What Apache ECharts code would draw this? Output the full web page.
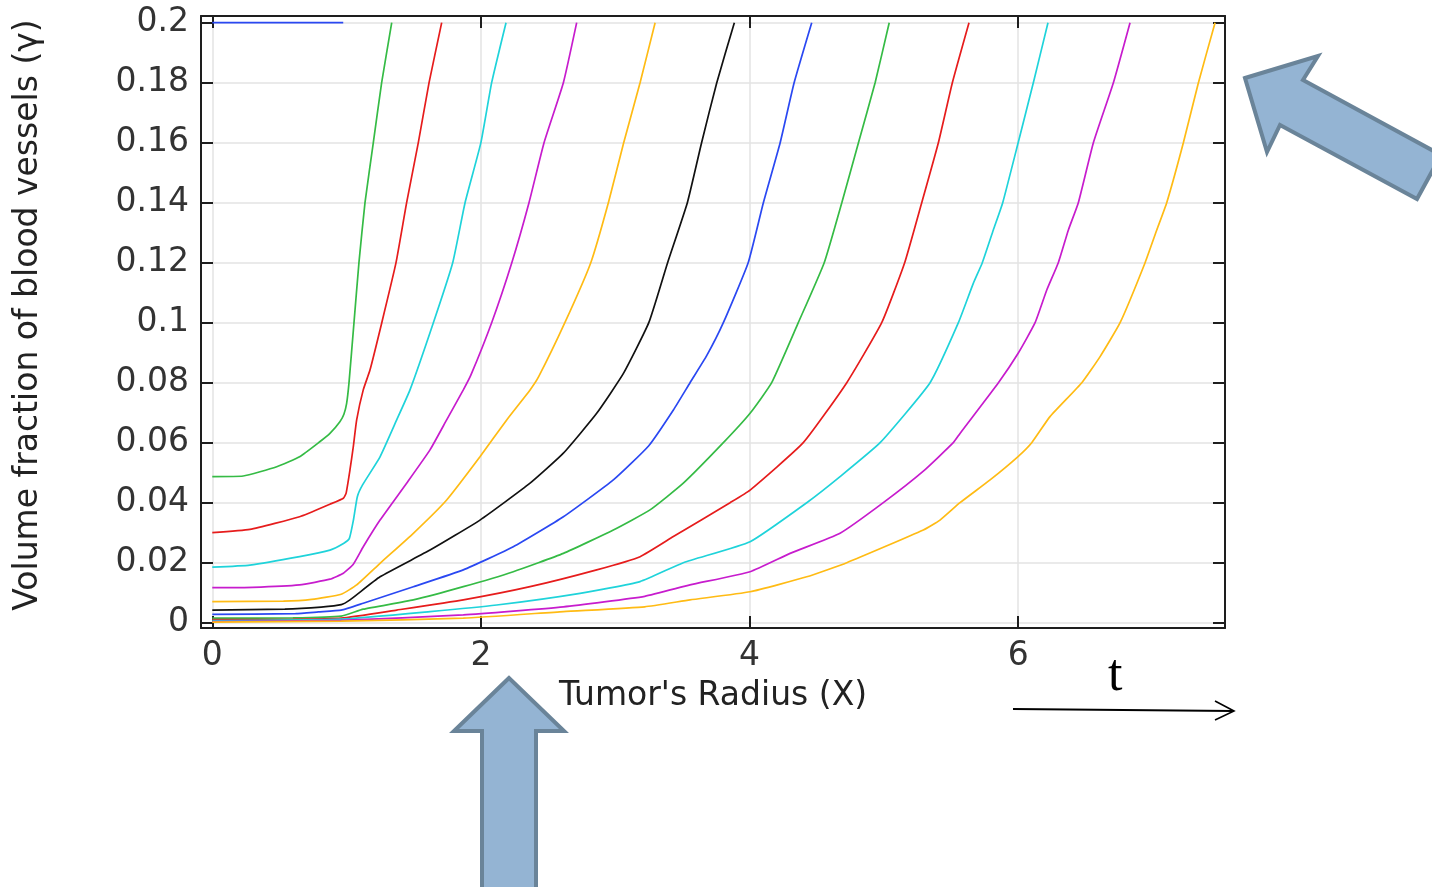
<!DOCTYPE html>
<html>
<head>
    <meta charset="utf-8">
    <title>Blood vessel fraction vs tumor radius</title>
    <script src="https://cdn.jsdelivr.net/npm/echarts@6/dist/echarts.min.js"></script>
    <style>
        html, body {margin: 0; padding: 0; background: #fff;}
        #chart {width: 1432px; height: 887px;}
    </style>
</head>
<body>
    <div id="chart"></div>
    <script type="text/javascript">
        // curves, [X, gamma], one per time step
        var curve01 = [[0, 0.2], [0.975, 0.2]];
        var curve02 = [[0, 0.0487], [0.23, 0.0489], [0.48, 0.052], [0.65, 0.0553], [0.8, 0.0603], [0.876, 0.0631], [0.95, 0.067], [0.98, 0.0695], [1.0, 0.073], [1.018, 0.08], [1.055, 0.1], [1.092, 0.12], [1.137, 0.14], [1.199, 0.16], [1.261, 0.18], [1.336, 0.2]];
        var curve03 = [[0, 0.030], [0.28, 0.0311], [0.65, 0.0353], [0.876, 0.0395], [0.976, 0.0415], [0.996, 0.0431], [1.025, 0.0509], [1.05, 0.0587], [1.075, 0.0676], [1.124, 0.0776], [1.174, 0.0842], [1.262, 0.1], [1.368, 0.12], [1.447, 0.14], [1.534, 0.16], [1.614, 0.18], [1.708, 0.2]];
        var curve04 = [[0, 0.0185], [0.28, 0.0192], [0.65, 0.022], [0.876, 0.0242], [0.98, 0.0265], [1.02, 0.028], [1.05, 0.034], [1.08, 0.042], [1.12, 0.046], [1.249, 0.0553], [1.373, 0.0676], [1.472, 0.0776], [1.646, 0.1], [1.79, 0.12], [1.882, 0.14], [2.0, 0.16], [2.08, 0.18], [2.187, 0.2]];
        var curve05 = [[0, 0.0117], [0.3, 0.0118], [0.65, 0.0126], [0.876, 0.0145], [0.976, 0.0165], [1.05, 0.0195], [1.124, 0.0253], [1.249, 0.0342], [1.447, 0.0465], [1.621, 0.0576], [1.745, 0.0676], [1.869, 0.0776], [1.925, 0.0825], [2.08, 0.1], [2.23, 0.12], [2.358, 0.14], [2.47, 0.16], [2.614, 0.18], [2.713, 0.2]];
        var curve06 = [[0, 0.007], [0.53, 0.0072], [0.74, 0.0078], [0.96, 0.0095], [1.075, 0.0126], [1.249, 0.0198], [1.497, 0.0298], [1.745, 0.0409], [1.993, 0.0553], [2.192, 0.0676], [2.366, 0.0776], [2.43, 0.082], [2.625, 0.1], [2.818, 0.12], [2.949, 0.14], [3.063, 0.16], [3.185, 0.18], [3.297, 0.2]];
        var curve07 = [[0, 0.0042], [0.54, 0.0045], [0.81, 0.0052], [0.96, 0.006], [1.025, 0.0076], [1.249, 0.0153], [1.621, 0.0242], [1.993, 0.0342], [2.366, 0.0465], [2.614, 0.0565], [2.862, 0.0698], [3.06, 0.083], [3.25, 0.1], [3.39, 0.12], [3.537, 0.14], [3.643, 0.16], [3.756, 0.18], [3.887, 0.2]];
        var curve08 = [[0, 0.0028], [0.62, 0.003], [0.79, 0.0036], [0.96, 0.0042], [1.124, 0.0065], [1.497, 0.012], [1.869, 0.0176], [2.241, 0.0253], [2.614, 0.0353], [2.986, 0.0476], [3.25, 0.059], [3.433, 0.0709], [3.557, 0.08], [3.681, 0.089], [3.805, 0.1], [3.99, 0.12], [4.103, 0.14], [4.228, 0.16], [4.332, 0.18], [4.463, 0.2]];
        var curve09 = [[0, 0.0015], [0.6, 0.0016], [0.96, 0.0022], [1.124, 0.0045], [1.497, 0.0076], [1.869, 0.012], [2.241, 0.017], [2.614, 0.0231], [2.986, 0.0309], [3.259, 0.0376], [3.507, 0.0465], [3.805, 0.06], [4.004, 0.0698], [4.165, 0.08], [4.363, 0.1], [4.556, 0.12], [4.687, 0.14], [4.811, 0.16], [4.935, 0.18], [5.04, 0.2]];
        var curve10 = [[0, 0.001], [0.6, 0.0011], [0.96, 0.0015], [1.373, 0.0042], [1.869, 0.0076], [2.366, 0.012], [2.862, 0.0176], [3.185, 0.022], [3.433, 0.0287], [3.855, 0.04], [4.004, 0.0442], [4.4, 0.06], [4.724, 0.08], [4.984, 0.1], [5.155, 0.12], [5.282, 0.14], [5.406, 0.16], [5.51, 0.18], [5.634, 0.2]];
        var curve11 = [[0, 0.0007], [0.96, 0.0012], [1.621, 0.0037], [2.118, 0.0059], [2.738, 0.0098], [3.185, 0.0137], [3.507, 0.02], [4.004, 0.027], [4.426, 0.04], [4.674, 0.0487], [4.972, 0.06], [5.344, 0.08], [5.555, 0.1], [5.666, 0.1131], [5.733, 0.12], [5.815, 0.1309], [5.885, 0.14], [6.0, 0.16], [6.113, 0.18], [6.222, 0.2]];
        var curve12 = [[0, 0.0004], [0.96, 0.0008], [1.869, 0.0026], [2.614, 0.0053], [3.22, 0.0088], [3.557, 0.0126], [4.004, 0.017], [4.302, 0.0231], [4.674, 0.0298], [4.996, 0.04], [5.294, 0.0505], [5.517, 0.06], [5.567, 0.0631], [5.853, 0.08], [6.0, 0.0898], [6.126, 0.1], [6.213, 0.1109], [6.299, 0.12], [6.374, 0.1309], [6.448, 0.14], [6.56, 0.16], [6.709, 0.18], [6.833, 0.2]];
        var curve13 = [[0, 0.0002], [0.96, 0.0005], [1.869, 0.0015], [2.614, 0.0037], [3.22, 0.0053], [3.557, 0.0076], [4.004, 0.0103], [4.426, 0.0153], [4.724, 0.02], [5.294, 0.0309], [5.418, 0.0342], [5.567, 0.04], [5.791, 0.0476], [5.997, 0.0553], [6.101, 0.06], [6.237, 0.0687], [6.474, 0.08], [6.61, 0.0887], [6.759, 0.1], [6.945, 0.12], [7.032, 0.1309], [7.106, 0.14], [7.23, 0.16], [7.342, 0.18], [7.466, 0.2]];

        var curves = [curve01, curve02, curve03, curve04, curve05, curve06, curve07,
                      curve08, curve09, curve10, curve11, curve12, curve13];
        var lineColors = ['#2a48f2', '#35bb45', '#e61c1c', '#1fd3da', '#c71ccd', '#ffbb14', '#111111',
                          '#2a48f2', '#35bb45', '#e61c1c', '#1fd3da', '#c71ccd', '#ffbb14'];

        var xTicks = [0, 2, 4, 6];
        var yTicks = [0, 0.02, 0.04, 0.06, 0.08, 0.1, 0.12, 0.14, 0.16, 0.18, 0.2];

        var FONT = 'DejaVu Sans';
        var frame = {show: true, onZero: false, lineStyle: {color: '#1e1e1e', width: 2}};
        var tickStyle = {color: '#1e1e1e', width: 2};

        var chart = echarts.init(document.getElementById('chart'));

        var series = curves.map(function (c, i) {
            return {
                type: 'line',
                data: c,
                showSymbol: false,
                smooth: 0.15,
                xAxisIndex: 0,
                yAxisIndex: 0,
                lineStyle: {color: lineColors[i], width: 1.7},
                itemStyle: {color: lineColors[i]},
                silent: true
            };
        });

        var blueArrow = {fill: '#94b4d3', stroke: '#6a8499', lineWidth: 4};

        var option = {
            animation: false,
            backgroundColor: '#ffffff',
            grid: {left: 201, top: 16, right: 207, bottom: 259, containLabel: false, outerBoundsMode: 'none'},
            xAxis: [{
                type: 'value', position: 'bottom',
                min: -0.084, max: 7.54,
                axisLine: frame,
                axisTick: {inside: true, length: 12, customValues: xTicks, lineStyle: tickStyle},
                axisLabel: {customValues: xTicks, fontFamily: FONT, fontSize: 33, color: '#333', margin: 12},
                splitLine: {show: true, lineStyle: {color: '#e3e3e3', width: 1.5}},
                name: "Tumor's Radius (X)", nameLocation: 'middle', nameGap: 52,
                nameTextStyle: {fontFamily: FONT, fontSize: 33, color: '#222'}
            }, {
                type: 'value', position: 'top',
                min: -0.084, max: 7.54,
                axisLine: frame,
                axisTick: {inside: true, length: 12, customValues: xTicks, lineStyle: tickStyle},
                axisLabel: {show: false},
                splitLine: {show: false}
            }],
            yAxis: [{
                type: 'value', position: 'left',
                min: -0.00177, max: 0.20223,
                axisLine: frame,
                axisTick: {inside: true, length: 12, customValues: yTicks, lineStyle: tickStyle},
                axisLabel: {
                    customValues: yTicks, fontFamily: FONT, fontSize: 33, color: '#333', margin: 12,
                    formatter: function (v) { return String(+v.toFixed(2)); }
                },
                splitLine: {show: true, lineStyle: {color: '#e3e3e3', width: 1.5}},
                name: 'Volume fraction of blood vessels (\u03b3)', nameLocation: 'middle', nameGap: 156,
                nameTextStyle: {fontFamily: FONT, fontSize: 33, color: '#222', padding: [0, 0, 0, 14]}
            }, {
                type: 'value', position: 'right',
                min: -0.00177, max: 0.20223,
                axisLine: frame,
                axisTick: {inside: true, length: 12, customValues: yTicks, lineStyle: tickStyle},
                axisLabel: {show: false},
                splitLine: {show: false}
            }],
            series: series,
            graphic: [
                {   // arrow pointing up at the X axis
                    type: 'polygon', z: 100,
                    shape: {points: [[509, 678], [454, 731], [482, 731], [482, 895], [536, 895], [536, 731], [564, 731]]},
                    style: blueArrow
                },
                {   // arrow pointing at the top right of the frame
                    type: 'polygon', z: 100,
                    shape: {points: [[1245, 78], [1318, 56], [1303, 80], [1441, 155], [1417, 199], [1280, 125], [1267, 152]]},
                    style: blueArrow
                },
                {
                    type: 'line', z: 100,
                    shape: {x1: 1013, y1: 709, x2: 1233, y2: 711},
                    style: {stroke: '#000', lineWidth: 2}
                },
                {
                    type: 'polyline', z: 100,
                    shape: {points: [[1215, 701], [1234, 711], [1215, 720]]},
                    style: {stroke: '#000', lineWidth: 1.6, fill: null}
                },
                {
                    type: 'text', z: 100, left: 1108, top: 650,
                    style: {text: 't', fontFamily: 'Liberation Serif', fontSize: 52, fill: '#000'}
                }
            ]
        };

        chart.setOption(option);
    </script>
</body>
</html>
